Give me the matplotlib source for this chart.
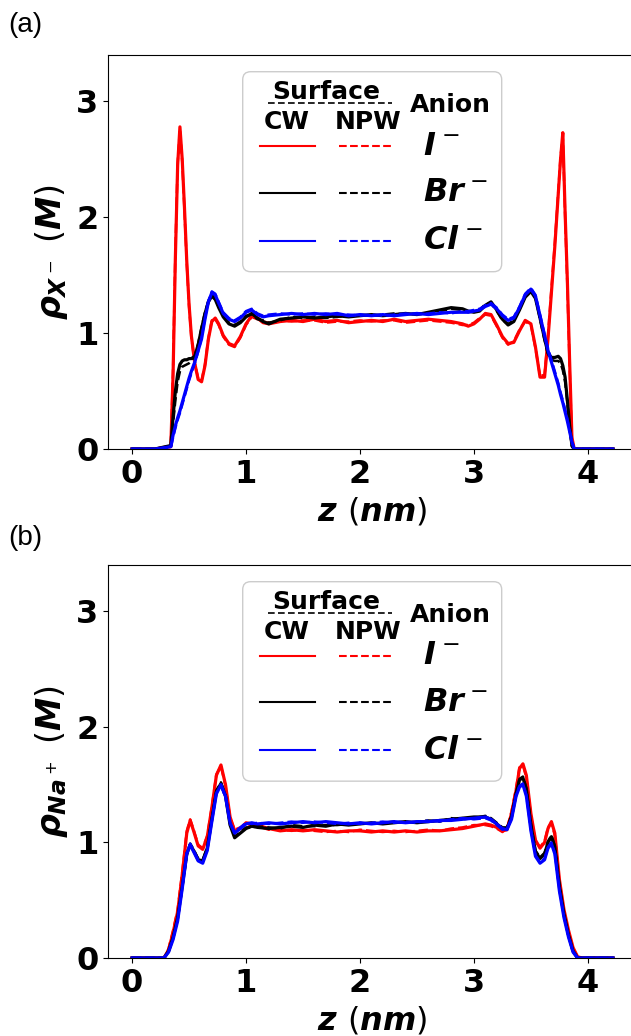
import matplotlib
matplotlib.use('Agg')
import matplotlib.pyplot as plt
from matplotlib.patches import FancyBboxPatch
from matplotlib.lines import Line2D

plt.rcParams['mathtext.fontset'] = 'custom'
plt.rcParams['mathtext.it'] = 'DejaVu Sans:italic:bold'
plt.rcParams['mathtext.rm'] = 'DejaVu Sans'
plt.rcParams['mathtext.bf'] = 'DejaVu Sans:bold'

# ---- panel (a): anion density profiles ----
z_a = [0.00, 0.20, 0.34, 0.36, 0.38, 0.40, 0.42, 0.44, 0.46, 0.48,
       0.50, 0.52, 0.55, 0.58, 0.61, 0.64, 0.67, 0.70, 0.73, 0.76,
       0.80, 0.85, 0.90, 0.95, 1.00, 1.05, 1.10, 1.15, 1.20, 1.30,
       1.40, 1.50, 1.60, 1.70, 1.80, 1.90, 2.00, 2.10, 2.20, 2.30,
       2.40, 2.50, 2.60, 2.70, 2.80, 2.90, 2.95, 3.00, 3.05, 3.10,
       3.15, 3.20, 3.25, 3.30, 3.35, 3.40, 3.45, 3.50, 3.54, 3.58,
       3.62, 3.65, 3.68, 3.71, 3.74, 3.76, 3.78, 3.80, 3.82, 3.84,
       3.86, 3.88, 4.00, 4.22]

I_cw = [0, 0, 0.02, 0.65, 1.65, 2.45, 2.78, 2.50, 2.08, 1.62,
        1.25, 0.98, 0.74, 0.60, 0.58, 0.72, 0.95, 1.10, 1.13, 1.08,
        0.98, 0.91, 0.89, 0.97, 1.08, 1.15, 1.13, 1.09, 1.08, 1.10,
        1.11, 1.10, 1.12, 1.10, 1.11, 1.09, 1.10, 1.11, 1.10, 1.12,
        1.10, 1.11, 1.12, 1.11, 1.10, 1.08, 1.06, 1.08, 1.12, 1.17,
        1.16, 1.07, 0.97, 0.91, 0.92, 1.02, 1.11, 1.08, 0.88, 0.62,
        0.62, 0.95, 1.35, 1.75, 2.20, 2.50, 2.73, 2.05, 1.45, 0.75,
        0.10, 0, 0, 0]
I_npw = [0, 0, 0.03, 0.70, 1.70, 2.47, 2.76, 2.48, 2.05, 1.60,
         1.23, 0.97, 0.74, 0.61, 0.59, 0.73, 0.96, 1.11, 1.12, 1.07,
         0.97, 0.90, 0.88, 0.96, 1.07, 1.14, 1.12, 1.10, 1.09, 1.11,
         1.10, 1.11, 1.11, 1.09, 1.10, 1.10, 1.11, 1.10, 1.11, 1.11,
         1.09, 1.10, 1.11, 1.10, 1.09, 1.07, 1.07, 1.09, 1.13, 1.16,
         1.15, 1.06, 0.96, 0.90, 0.93, 1.03, 1.10, 1.07, 0.87, 0.63,
         0.64, 0.98, 1.38, 1.78, 2.22, 2.52, 2.70, 2.02, 1.40, 0.70,
         0.08, 0, 0, 0]
Br_cw = [0, 0, 0.03, 0.28, 0.50, 0.65, 0.73, 0.76, 0.77, 0.77,
         0.78, 0.78, 0.80, 0.90, 1.04, 1.17, 1.27, 1.32, 1.29, 1.22,
         1.14, 1.08, 1.06, 1.09, 1.14, 1.17, 1.13, 1.10, 1.08, 1.12,
         1.13, 1.14, 1.13, 1.14, 1.15, 1.14, 1.15, 1.16, 1.15, 1.16,
         1.17, 1.16, 1.18, 1.20, 1.22, 1.21, 1.19, 1.18, 1.19, 1.24,
         1.27, 1.20, 1.12, 1.07, 1.10, 1.20, 1.31, 1.36, 1.30, 1.13,
         0.95, 0.83, 0.79, 0.79, 0.80, 0.78, 0.72, 0.62, 0.42, 0.20,
         0.03, 0, 0, 0]
Br_npw = [0, 0, 0.02, 0.22, 0.42, 0.58, 0.67, 0.71, 0.72, 0.73,
          0.74, 0.76, 0.80, 0.91, 1.05, 1.18, 1.28, 1.33, 1.30, 1.23,
          1.15, 1.09, 1.07, 1.10, 1.15, 1.16, 1.12, 1.11, 1.09, 1.11,
          1.14, 1.13, 1.14, 1.13, 1.14, 1.15, 1.16, 1.15, 1.16, 1.17,
          1.16, 1.17, 1.17, 1.19, 1.21, 1.20, 1.18, 1.19, 1.20, 1.25,
          1.26, 1.19, 1.11, 1.08, 1.11, 1.21, 1.32, 1.37, 1.31, 1.12,
          0.94, 0.82, 0.77, 0.76, 0.76, 0.74, 0.68, 0.58, 0.40, 0.18,
          0.02, 0, 0, 0]
Cl_cw = [0, 0, 0.02, 0.12, 0.20, 0.27, 0.33, 0.40, 0.47, 0.54,
         0.61, 0.67, 0.75, 0.85, 0.95, 1.12, 1.27, 1.35, 1.33, 1.26,
         1.17, 1.12, 1.10, 1.13, 1.18, 1.20, 1.16, 1.14, 1.15, 1.16,
         1.17, 1.16, 1.17, 1.16, 1.17, 1.15, 1.16, 1.15, 1.16, 1.15,
         1.16, 1.17, 1.16, 1.17, 1.18, 1.18, 1.18, 1.19, 1.20, 1.23,
         1.25, 1.21, 1.15, 1.11, 1.13, 1.22, 1.33, 1.38, 1.32, 1.15,
         0.98, 0.85, 0.75, 0.65, 0.55, 0.47, 0.40, 0.32, 0.24, 0.15,
         0.06, 0, 0, 0]
Cl_npw = [0, 0, 0.01, 0.10, 0.18, 0.25, 0.31, 0.38, 0.45, 0.52,
          0.59, 0.65, 0.74, 0.84, 0.96, 1.13, 1.28, 1.36, 1.34, 1.27,
          1.18, 1.13, 1.11, 1.14, 1.19, 1.21, 1.17, 1.15, 1.16, 1.17,
          1.16, 1.17, 1.16, 1.17, 1.16, 1.16, 1.15, 1.16, 1.15, 1.16,
          1.17, 1.16, 1.17, 1.18, 1.17, 1.19, 1.19, 1.20, 1.21, 1.24,
          1.26, 1.22, 1.16, 1.12, 1.14, 1.23, 1.34, 1.39, 1.33, 1.16,
          0.99, 0.87, 0.77, 0.67, 0.57, 0.49, 0.42, 0.34, 0.26, 0.16,
          0.07, 0, 0, 0]

# ---- panel (b): Na+ density profiles ----
z_b = [0.00, 0.20, 0.28, 0.32, 0.36, 0.40, 0.44, 0.48, 0.51, 0.54,
       0.58, 0.62, 0.66, 0.70, 0.74, 0.78, 0.82, 0.86, 0.90, 0.95,
       1.00, 1.05, 1.10, 1.20, 1.30, 1.40, 1.50, 1.60, 1.70, 1.80,
       1.90, 2.00, 2.10, 2.20, 2.30, 2.40, 2.50, 2.60, 2.70, 2.80,
       2.90, 3.00, 3.10, 3.15, 3.20, 3.25, 3.29, 3.33, 3.37, 3.40,
       3.43, 3.46, 3.50, 3.54, 3.58, 3.62, 3.65, 3.68, 3.71, 3.75,
       3.79, 3.83, 3.87, 3.91, 3.95, 4.22]

NaI_cw = [0, 0, 0.00, 0.07, 0.22, 0.40, 0.72, 1.08, 1.19, 1.10,
          0.97, 0.94, 1.05, 1.30, 1.58, 1.67, 1.50, 1.22, 1.10, 1.12,
          1.17, 1.16, 1.15, 1.12, 1.10, 1.11, 1.10, 1.11, 1.10, 1.09,
          1.10, 1.10, 1.09, 1.10, 1.09, 1.10, 1.09, 1.10, 1.10, 1.11,
          1.12, 1.14, 1.16, 1.15, 1.13, 1.10, 1.11, 1.25, 1.45, 1.64,
          1.68, 1.58, 1.25, 1.02, 0.95, 1.00, 1.12, 1.18, 1.08, 0.68,
          0.42, 0.24, 0.09, 0.01, 0, 0]
NaI_npw = [0, 0, 0.00, 0.08, 0.24, 0.42, 0.74, 1.10, 1.20, 1.11,
           0.98, 0.95, 1.06, 1.31, 1.59, 1.66, 1.49, 1.21, 1.11, 1.13,
           1.16, 1.15, 1.14, 1.11, 1.11, 1.10, 1.11, 1.10, 1.09, 1.10,
           1.09, 1.11, 1.10, 1.09, 1.10, 1.09, 1.10, 1.11, 1.10, 1.12,
           1.13, 1.15, 1.15, 1.14, 1.12, 1.09, 1.12, 1.27, 1.47, 1.65,
           1.67, 1.56, 1.23, 1.01, 0.96, 1.01, 1.13, 1.17, 1.06, 0.66,
           0.40, 0.22, 0.08, 0.01, 0, 0]
NaBr_cw = [0, 0, 0.00, 0.06, 0.18, 0.35, 0.62, 0.90, 0.98, 0.93,
           0.85, 0.84, 0.95, 1.20, 1.44, 1.51, 1.40, 1.15, 1.04, 1.08,
           1.12, 1.14, 1.13, 1.12, 1.13, 1.14, 1.13, 1.15, 1.14, 1.16,
           1.15, 1.16, 1.17, 1.16, 1.17, 1.18, 1.17, 1.18, 1.19, 1.20,
           1.21, 1.22, 1.22, 1.20, 1.16, 1.12, 1.12, 1.22, 1.42, 1.54,
           1.56, 1.46, 1.15, 0.92, 0.86, 0.90, 1.00, 1.05, 0.96, 0.62,
           0.38, 0.20, 0.06, 0.00, 0, 0]
NaBr_npw = [0, 0, 0.00, 0.05, 0.17, 0.34, 0.61, 0.89, 0.99, 0.94,
            0.86, 0.85, 0.96, 1.21, 1.45, 1.52, 1.41, 1.16, 1.05, 1.09,
            1.13, 1.13, 1.14, 1.13, 1.12, 1.15, 1.14, 1.14, 1.15, 1.15,
            1.16, 1.17, 1.16, 1.17, 1.18, 1.17, 1.18, 1.19, 1.18, 1.21,
            1.20, 1.21, 1.23, 1.21, 1.17, 1.13, 1.13, 1.23, 1.43, 1.55,
            1.57, 1.47, 1.16, 0.93, 0.87, 0.91, 1.01, 1.06, 0.97, 0.63,
            0.37, 0.19, 0.05, 0.00, 0, 0]
NaCl_cw = [0, 0, 0.00, 0.05, 0.16, 0.32, 0.60, 0.90, 0.98, 0.92,
           0.84, 0.82, 0.93, 1.18, 1.42, 1.50, 1.40, 1.17, 1.08, 1.12,
           1.16, 1.17, 1.16, 1.17, 1.16, 1.17, 1.18, 1.17, 1.18, 1.17,
           1.16, 1.17, 1.16, 1.17, 1.18, 1.17, 1.18, 1.18, 1.19, 1.19,
           1.20, 1.21, 1.22, 1.20, 1.16, 1.12, 1.11, 1.20, 1.40, 1.48,
           1.50, 1.40, 1.10, 0.88, 0.82, 0.85, 0.95, 0.99, 0.90, 0.58,
           0.35, 0.18, 0.05, 0.00, 0, 0]
NaCl_npw = [0, 0, 0.00, 0.06, 0.17, 0.33, 0.61, 0.91, 0.99, 0.93,
            0.85, 0.83, 0.94, 1.19, 1.43, 1.49, 1.39, 1.16, 1.09, 1.13,
            1.17, 1.16, 1.17, 1.16, 1.17, 1.18, 1.17, 1.18, 1.17, 1.16,
            1.17, 1.16, 1.17, 1.18, 1.17, 1.18, 1.17, 1.19, 1.18, 1.20,
            1.21, 1.20, 1.21, 1.19, 1.15, 1.11, 1.12, 1.21, 1.41, 1.49,
            1.51, 1.41, 1.11, 0.89, 0.83, 0.86, 0.96, 1.00, 0.91, 0.59,
            0.36, 0.19, 0.06, 0.00, 0, 0]

anion_labels = [r'$I^-$', r'$Br^-$', r'$Cl^-$']
colors = ['red', 'black', 'blue']
xticks = [0, 1, 2, 3, 4]
yticks = [0, 1, 2, 3]


def surface_legend(ax):
    aspect = 529 / 394
    box = FancyBboxPatch((0.2546, 0.450), 0.4896, 0.5076,
                         boxstyle='round,pad=0,rounding_size=0.015',
                         mutation_aspect=aspect, transform=ax.transAxes,
                         facecolor=(1, 1, 1, 0.8), edgecolor='0.8', lw=1, zorder=5)
    ax.add_patch(box)
    kw = dict(transform=ax.transAxes, ha='center', va='center',
              fontsize=18, fontweight='bold', zorder=6)
    ax.text(0.4134, 0.9069, 'Surface', **kw)
    ax.add_line(Line2D([0.3025, 0.5369], [0.8782, 0.8782], transform=ax.transAxes,
                       color='black', lw=1.2, ls=(0, (4, 2)), zorder=6))
    ax.text(0.3384, 0.8307, 'CW', **kw)
    ax.text(0.4915, 0.8307, 'NPW', **kw)
    ax.text(0.6465, 0.8731, 'Anion', **kw)
    for y, c, lab in zip([0.769, 0.6505, 0.5287], colors, anion_labels):
        ax.add_line(Line2D([0.2873, 0.3913], [y, y], transform=ax.transAxes,
                           color=c, lw=1.5, zorder=6))
        ax.add_line(Line2D([0.4367, 0.5406], [y, y], transform=ax.transAxes,
                           color=c, lw=1.5, ls='--', zorder=6))
        ax.text(0.5955, y, lab, transform=ax.transAxes, ha='left', va='center',
                fontsize=23, zorder=6)


def style_axes(ax, ylabel):
    ax.set_xlim(-0.211, 4.431)
    ax.set_ylim(0, 3.4)
    ax.set_xticks(xticks)
    ax.set_yticks(yticks)
    ax.tick_params(labelsize=23)
    for t in ax.get_xticklabels() + ax.get_yticklabels():
        t.set_fontweight('bold')
    ax.set_xlabel(r'$z\ (nm)$', fontsize=23)
    ax.set_ylabel(ylabel, fontsize=24)
    surface_legend(ax)


fig = plt.figure(figsize=(6.31, 10.36), dpi=100)
ax1 = fig.add_axes([0.1712, 0.5666, 0.8383, 0.3803])
ax2 = fig.add_axes([0.1712, 0.0753, 0.8383, 0.3793])

for c, cw, npw in zip(colors, [I_cw, Br_cw, Cl_cw], [I_npw, Br_npw, Cl_npw]):
    ax1.plot(z_a, cw, color=c, lw=2.3)
    ax1.plot(z_a, npw, color=c, lw=1.8, ls='--')
for c, cw, npw in zip(colors, [NaI_cw, NaBr_cw, NaCl_cw], [NaI_npw, NaBr_npw, NaCl_npw]):
    ax2.plot(z_b, cw, color=c, lw=2.3)
    ax2.plot(z_b, npw, color=c, lw=1.8, ls='--')

style_axes(ax1, r'$\rho_{X^-}\ (M)$')
style_axes(ax2, r'$\rho_{Na^+}\ (M)$')

fig.text(0.013, 0.976, '(a)', fontsize=20, family='Liberation Sans', va='center')
fig.text(0.013, 0.4807, '(b)', fontsize=20, family='Liberation Sans', va='center')

fig.savefig('out.png', dpi=100)
